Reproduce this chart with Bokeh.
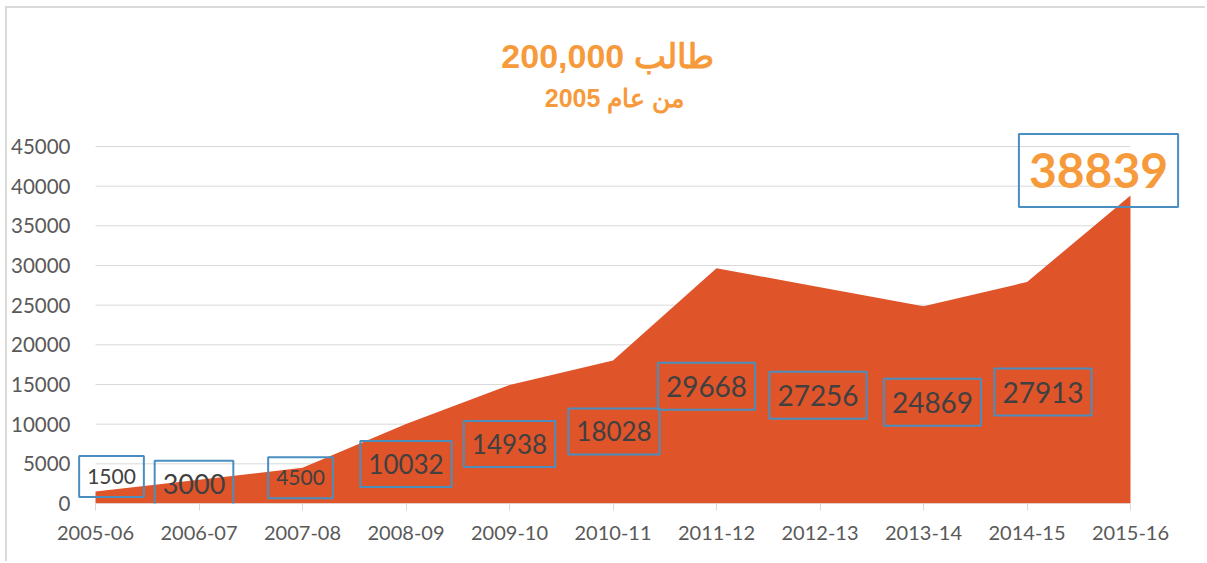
from bokeh.plotting import figure
from bokeh.models import ColumnDataSource, FixedTicker, Range1d, Label
from bokeh.core.properties import value
from bokeh.embed import file_html
from bokeh.resources import INLINE

# ---- data ----
years = ["2005-06", "2006-07", "2007-08", "2008-09", "2009-10", "2010-11",
         "2011-12", "2012-13", "2013-14", "2014-15", "2015-16"]
students = [1500, 3000, 4500, 10032, 14938, 18028, 29668, 27256, 24869, 27913, 38839]
y_ticks = [0, 5000, 10000, 15000, 20000, 25000, 30000, 35000, 40000, 45000]
title_main = "200,000 طالب"
title_sub = "من عام 2005"

# ---- styles (label placement relative to data point, in px) ----
label_dx = [16, -5, -2, 0, 0, 1, -10, -2, 9, 16, -32]
label_dy = [-15, 4, 10, 40, 59, 71, 118, 108, 96, 110, -25]
label_size = ["21px", "27px", "21px", "26px", "26px", "26px", "28px", "28px", "28px", "28px", "48px"]

FONT = "Lato"
ORANGE = "#F79A3B"
AREA = "#E0542A"
BOX = "#4A8EC0"
GRID = "#d9d9d9"

idx = list(range(len(years)))

# frame extends past the data so boxed labels and titles are not clipped
p = figure(width=1200, height=555, output_backend="svg", toolbar_location=None,
           x_range=Range1d(-0.1836, 10.628), y_range=Range1d(0, 62395),
           min_border_left=69, min_border_right=12, min_border_top=0, min_border_bottom=60,
           outline_line_color=None, background_fill_color="white", border_fill_color="white",
           styles={"margin-left": "5px", "margin-top": "6px",
                   "border-left": "2px solid #d9d9d9", "border-top": "2px solid #d9d9d9"})

# horizontal gridlines spanning only the category extent
k = len(y_ticks)
p.segment(x0=[idx[0]] * k, x1=[idx[-1]] * k, y0=y_ticks, y1=y_ticks,
          line_color=GRID, line_width=1, level="underlay")

p.varea(x=idx, y1=[0] * len(idx), y2=students, fill_color=AREA)
p.line(x=[idx[0], idx[-1]], y=[0, 0], line_color=GRID, line_width=1)

# axes
p.xaxis.ticker = FixedTicker(ticks=idx)
p.xaxis.major_label_overrides = {i: y for i, y in enumerate(years)}
p.xaxis.axis_line_color = None
p.xaxis.major_tick_line_color = GRID
p.xaxis.major_tick_out = 7
p.xaxis.major_tick_in = 0
p.xaxis.minor_tick_line_color = None
p.xaxis.major_label_standoff = 15
p.xaxis.major_label_text_font = FONT
p.xaxis.major_label_text_font_size = "20px"
p.xaxis.major_label_text_color = "#595959"

p.yaxis.ticker = FixedTicker(ticks=y_ticks)
p.yaxis.axis_line_color = None
p.yaxis.major_tick_line_color = None
p.yaxis.minor_tick_line_color = None
p.yaxis.major_label_standoff = 0
p.yaxis.major_label_text_font = FONT
p.yaxis.major_label_text_font_size = "20.5px"
p.yaxis.major_label_text_color = "#595959"

p.xgrid.grid_line_color = None
p.ygrid.grid_line_color = None

# data labels
n = len(years) - 1
src = ColumnDataSource(dict(x=idx[:n], y=students[:n], t=[str(v) for v in students[:n]],
                            dx=label_dx[:n], dy=label_dy[:n], fs=label_size[:n]))
p.text(x="x", y="y", text="t", x_offset="dx", y_offset="dy", text_font_size="fs",
       source=src, text_font=value(FONT), text_color="#404040",
       text_align="center", text_baseline="middle",
       border_line_color=BOX, border_line_width=2, padding=dict(x=8, y=13))

src2 = ColumnDataSource(dict(x=idx[n:], y=students[n:], t=[str(v) for v in students[n:]],
                             dx=label_dx[n:], dy=label_dy[n:], fs=label_size[n:]))
p.text(x="x", y="y", text="t", x_offset="dx", y_offset="dy", text_font_size="fs",
       source=src2, text_font=value(FONT), text_font_style="bold", text_color=ORANGE,
       text_align="center", text_baseline="middle",
       border_line_color=BOX, border_line_width=2, padding=dict(x=10, y=19))

# titles
p.add_layout(Label(x=531, y=448, x_units="screen", y_units="screen", text=title_main,
                   text_align="center", text_baseline="middle", text_font="Liberation Sans",
                   text_font_size="34px", text_font_style="bold", text_color=ORANGE))
p.add_layout(Label(x=538, y=406, x_units="screen", y_units="screen", text=title_sub,
                   text_align="center", text_baseline="middle", text_font="Liberation Sans",
                   text_font_size="25px", text_font_style="bold", text_color=ORANGE))

open("out.html", "w").write(file_html(p, INLINE))
